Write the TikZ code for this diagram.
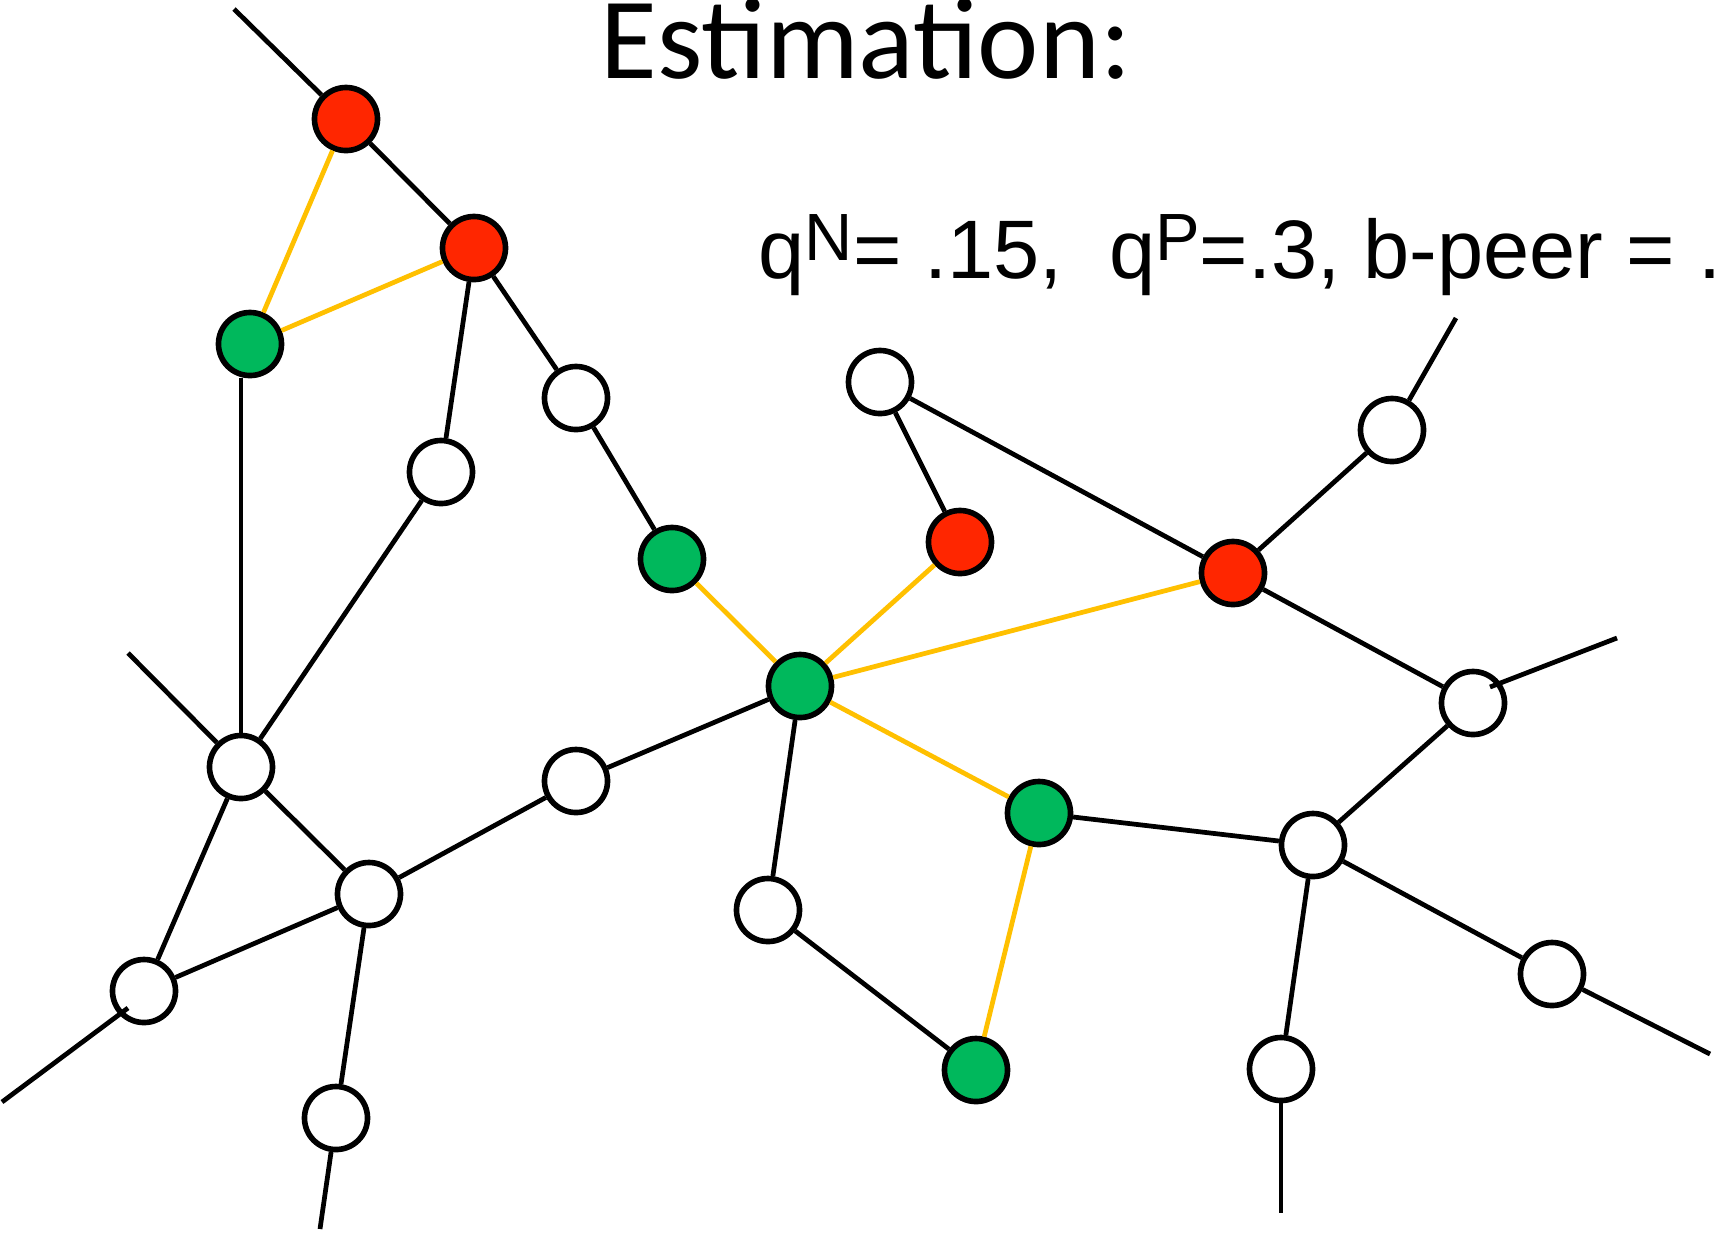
\documentclass[tikz,border=0pt]{standalone}
\usepackage{fontspec}
\setmainfont{Liberation Sans}
\newfontfamily\titlefont{Carlito}
\definecolor{peerred}{HTML}{FF2600}
\definecolor{peergreen}{HTML}{00B85C}
\definecolor{trustgold}{HTML}{FFC000}
\begin{document}
\begin{tikzpicture}[x=0.01cm,y=-0.01cm,
  peer/.style={circle,draw,line width=1.6pt,minimum size=0.63cm,inner sep=0pt,fill=white},
  badpeer/.style={peer,fill=peerred},
  goodpeer/.style={peer,fill=peergreen},
  link/.style={line width=1.35pt},
  trust/.style={line width=1.35pt,draw=trustgold}]
\useasboundingbox (0,0) rectangle (1721,1232);
% peers
\node[badpeer] (R1) at (346,119) {};
\node[badpeer] (R2) at (474,248) {};
\node[goodpeer] (G1) at (250,344) {};
\node[peer] (W1) at (576,398) {};
\node[peer] (W2) at (441,472) {};
\node[peer] (W3) at (880,382) {};
\node[badpeer] (R3) at (960,542) {};
\node[peer] (W4) at (1392,430) {};
\node[badpeer] (R4) at (1233,573) {};
\node[goodpeer] (G2) at (672,559) {};
\node[goodpeer] (G3) at (800,686) {};
\node[peer] (W5) at (1473,703) {};
\node[peer] (W6) at (241,767) {};
\node[peer] (W7) at (576,781) {};
\node[goodpeer] (G4) at (1039,813) {};
\node[peer] (W8) at (1313,845) {};
\node[peer] (W9) at (369,894) {};
\node[peer] (W10) at (768,910) {};
\node[peer] (W11) at (144,991) {};
\node[peer] (W12) at (1552,974) {};
\node[goodpeer] (G5) at (976,1070) {};
\node[peer] (W13) at (1281,1069) {};
\node[peer] (W14) at (336,1118) {};
% loose ends
\coordinate (e1) at (234,9);
\coordinate (e6) at (128,653);
\coordinate (e14) at (320,1229);
\coordinate (e11a) at (128,1008);
\coordinate (e11b) at (2,1102);
\coordinate (e4) at (1456,318);
\coordinate (e5a) at (1490,687);
\coordinate (e5b) at (1617,638);
\coordinate (e12) at (1710,1054);
\coordinate (e13) at (1281,1213);
% black links
\draw[link] (R1) -- (e1);
\draw[link] (R1) -- (R2);
\draw[link] (R2) -- (W1);
\draw[link] (R2) -- (W2);
\draw[link] (W6 |- G1.south) -- (W6);
\draw[link] (W2) -- (W6);
\draw[link] (W6) -- (e6);
\draw[link] (W6) -- (W11);
\draw[link] (W6) -- (W9);
\draw[link] (W9) -- (W7);
\draw[link] (W9) -- (W11);
\draw[link] (W9) -- (W14);
\draw[link] (W14) -- (e14);
\draw[link] (e11a) -- (e11b);
\draw[link] (W1) -- (G2);
\draw[link] (W7) -- (G3);
\draw[link] (G3) -- (W10);
\draw[link] (W10) -- (G5);
\draw[link] (W3) -- (R3);
\draw[link] (W3) -- (R4);
\draw[link] (R4) -- (W4);
\draw[link] (W4) -- (e4);
\draw[link] (R4) -- (W5);
\draw[link] (e5a) -- (e5b);
\draw[link] (W5) -- (W8);
\draw[link] (G4) -- (W8);
\draw[link] (W8) -- (W12);
\draw[link] (W12) -- (e12);
\draw[link] (W8) -- (W13);
\draw[link] (W13) -- (e13);
% yellow links
\draw[trust] (R1) -- (G1);
\draw[trust] (R2) -- (G1);
\draw[trust] (G2) -- (G3);
\draw[trust] (G3) -- (R3);
\draw[trust] (G3) -- (R4);
\draw[trust] (G3) -- (G4);
\draw[trust] (G4) -- (G5);
% text
\node[anchor=base west,inner sep=0pt] (title) at (600,78)
  {\titlefont\fontsize{33pt}{33pt}\selectfont Estimation:};
\node[anchor=base west,inner sep=0pt] (params) at (758,278)
  {\fontsize{23.6pt}{23.6pt}\selectfont q\raisebox{5pt}{\fontsize{19pt}{19pt}\selectfont N}= .15,\ \ q\raisebox{5pt}{\fontsize{19pt}{19pt}\selectfont P}=.3, b-peer = .};
\end{tikzpicture}
\end{document}
